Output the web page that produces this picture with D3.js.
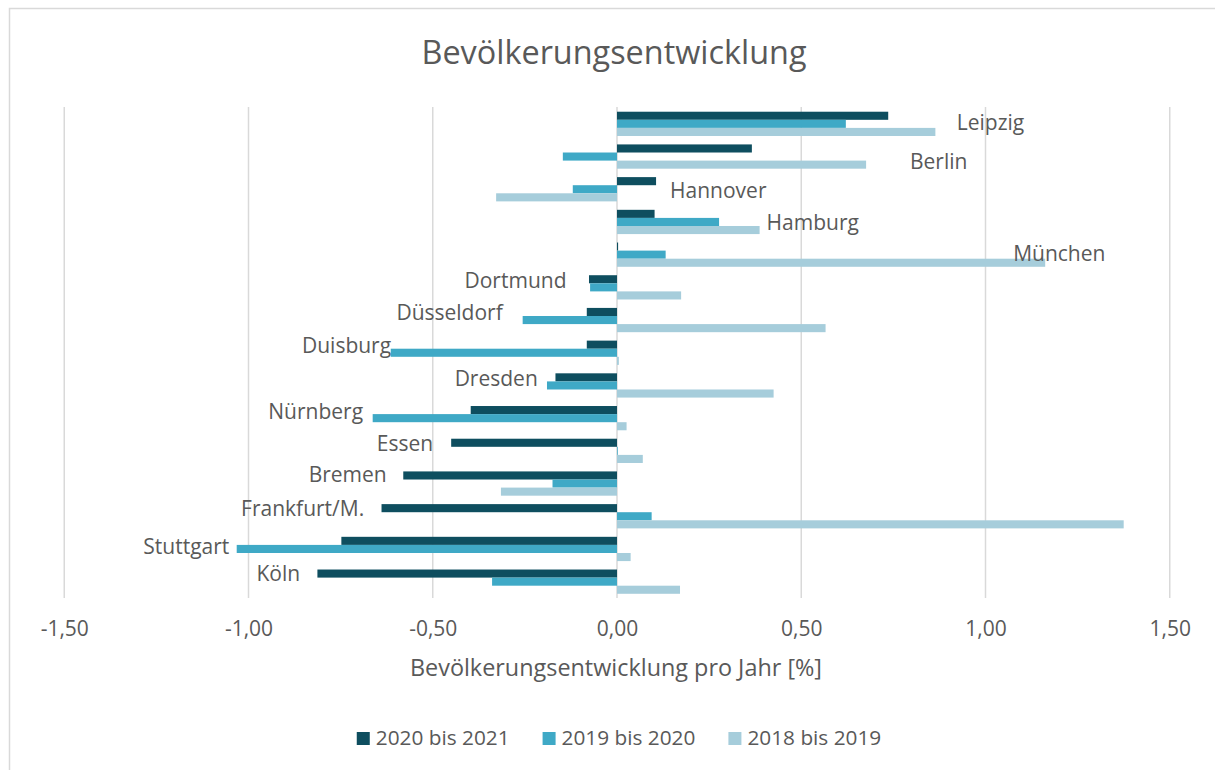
<!DOCTYPE html>
<html>
<head>
<meta charset="utf-8">
<script src="https://cdn.jsdelivr.net/npm/d3@7"></script>
<style>
  html, body { margin: 0; padding: 0; background: #ffffff; }
  svg { display: block; }
  text { font-family: "Open Sans", "Noto Sans", sans-serif; fill: #595959; }
</style>
</head>
<body>
<svg id="chart" width="1215" height="770"></svg>
<script>
// ---- data ----
const cities = ["Leipzig", "Berlin", "Hannover", "Hamburg", "München", "Dortmund", "Düsseldorf",
  "Duisburg", "Dresden", "Nürnberg", "Essen", "Bremen", "Frankfurt/M.", "Stuttgart", "Köln"];
const seriesNames = ["2020 bis 2021", "2019 bis 2020", "2018 bis 2019"];
const v2020_2021 = [0.736, 0.366, 0.106, 0.102, 0.003, -0.076, -0.082, -0.082, -0.167, -0.397, -0.450, -0.580, -0.639, -0.748, -0.813];
const v2019_2020 = [0.621, -0.147, -0.120, 0.277, 0.132, -0.073, -0.256, -0.614, -0.190, -0.663, 0.002, -0.175, 0.094, -1.032, -0.339];
const v2018_2019 = [0.864, 0.676, -0.328, 0.387, 1.162, 0.174, 0.566, 0.005, 0.425, 0.026, 0.070, -0.315, 1.375, 0.037, 0.171];
const xTicks = [-1.5, -1.0, -0.5, 0.0, 0.5, 1.0, 1.5];
const chartTitle = "Bevölkerungsentwicklung";
const xAxisTitle = "Bevölkerungsentwicklung pro Jahr [%]";
// label anchor (in % units) where each city name starts (positive) or ends (negative)
const labelAnchor = [0.922, 0.795, 0.144, 0.406, 1.075, -0.137, -0.310, -0.613, -0.215, -0.689, -0.499, -0.625, -0.686, -1.052, -0.860];
const labelShift = [-1, 5.5, 1, 1, -1, -7, -7, -7, -7, -6.5, -7.5, -8.5, -8, -2, -8];

// ---- styles / layout ----
const colors = ["#0e4e5f", "#3fa9c6", "#a6cddb"];
const svg = d3.select("#chart");
const W = 1215, H = 770;

// chart frame
svg.append("path")
  .attr("d", `M9.5,${H + 2} L9.5,8.5 L${W + 2},8.5`)
  .attr("fill", "none").attr("stroke", "#d9d9d9").attr("stroke-width", 1.5);

const x = d3.scaleLinear().domain([-1.5, 1.5]).range([64.25, 1169.75]);
const y = d3.scaleBand().domain(cities).range([107.5, 598]).paddingInner(0.258).paddingOuter(0.129);
const ySub = d3.scaleBand().domain(seriesNames).range([0, y.bandwidth()]);

// gridlines
svg.append("g").selectAll("line").data(xTicks).join("line")
  .attr("x1", d => x(d)).attr("x2", d => x(d))
  .attr("y1", 107).attr("y2", 598)
  .attr("stroke", "#d9d9d9").attr("stroke-width", 1.5);

// tick labels via axis
const fmt = d => d3.format(".2f")(d).replace(".", ",").replace("−", "-");
const ax = svg.append("g").attr("transform", "translate(0,621)")
  .call(d3.axisBottom(x).tickValues(xTicks).tickFormat(fmt).tickSize(0).tickPadding(0));
ax.select(".domain").remove();
ax.selectAll("text").attr("font-size", 21).attr("dy", "0.71em").attr("fill", "#595959")
  .style("font-family", "'Open Sans', sans-serif");

// bars
const series = [v2020_2021, v2019_2020, v2018_2019];
series.forEach((vals, si) => {
  svg.append("g").selectAll("rect").data(vals).join("rect")
    .attr("x", d => x(Math.min(0, d)))
    .attr("width", d => Math.abs(x(d) - x(0)))
    .attr("y", (d, i) => y(cities[i]) + ySub(seriesNames[si]))
    .attr("height", ySub.bandwidth())
    .attr("fill", colors[si]);
});

// city labels
svg.append("g").selectAll("text").data(cities).join("text")
  .attr("x", (d, i) => x(labelAnchor[i]))
  .attr("y", (d, i) => y(d) + y.bandwidth() / 2 + labelShift[i])
  .attr("dy", "0.35em")
  .attr("text-anchor", (d, i) => labelAnchor[i] >= 0 ? "start" : "end")
  .attr("font-size", 21)
  .text(d => d);

// title
svg.append("text").attr("x", 614).attr("y", 64).attr("text-anchor", "middle")
  .attr("font-size", 32.4).text(chartTitle);

// axis title
svg.append("text").attr("x", 616).attr("y", 676).attr("text-anchor", "middle")
  .attr("font-size", 23.4).text(xAxisTitle);

// legend
const leg = svg.append("g");
const items = leg.selectAll("g").data(seriesNames).join("g");
items.append("rect").attr("width", 13).attr("height", 13).attr("y", -13)
  .attr("fill", (d, i) => colors[i]);
items.append("text").attr("x", 19).attr("y", 0).attr("font-size", 20.8).text(d => d);
let cx = 0;
const widths = [];
items.each(function () { widths.push(19 + this.querySelector("text").getComputedTextLength()); });
const gap = 33;
const total = d3.sum(widths) + gap * (widths.length - 1);
cx = 619 - total / 2;
items.each(function (d, i) {
  d3.select(this).attr("transform", `translate(${cx},745)`);
  cx += widths[i] + gap;
});
</script>
</body>
</html>
